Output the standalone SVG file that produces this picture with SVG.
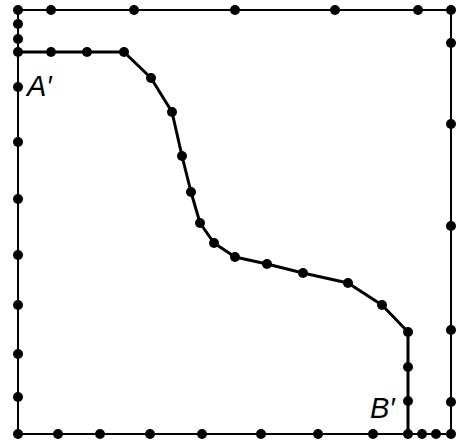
<svg xmlns="http://www.w3.org/2000/svg" width="457" height="446" viewBox="0 0 457 446">
<style>
.edge{fill:none;stroke:#000;stroke-width:2;stroke-linejoin:round}
.curve{fill:none;stroke:#000;stroke-width:3;stroke-linejoin:round}
.dot{fill:#000}
.lbl{font-family:"Liberation Sans",Arial,sans-serif;font-style:italic;font-size:29px;fill:#000}
</style>
<defs><circle id="d" r="5" class="dot"/></defs>
<rect width="457" height="446" fill="#fff"/>
<g id="connectors">
<polyline class="edge" points="18,434 18,10 451,10 451,434 18,434"/>
<polyline class="curve" points="18,52 51,52 87,52 124,52 151,78 172,112 182,156 191,192 200,223 214,243 235,257 267,264 303,273 348,283 382,305 408,332 408,434"/>
</g>
<g id="nodes">
<g id="top">
<use href="#d" x="18" y="10"/><use href="#d" x="51" y="10"/><use href="#d" x="134" y="10"/><use href="#d" x="235" y="10"/><use href="#d" x="335" y="10"/><use href="#d" x="418" y="10"/><use href="#d" x="451" y="10"/>
</g>
<g id="left">
<use href="#d" x="18" y="24"/><use href="#d" x="18" y="39"/><use href="#d" x="18" y="52"/><use href="#d" x="18" y="87"/><use href="#d" x="18" y="142"/><use href="#d" x="18" y="199"/><use href="#d" x="18" y="255"/><use href="#d" x="18" y="305"/><use href="#d" x="18" y="354"/><use href="#d" x="18" y="397"/><use href="#d" x="18" y="434"/>
</g>
<g id="right">
<use href="#d" x="451" y="43"/><use href="#d" x="451" y="124"/><use href="#d" x="451" y="226"/><use href="#d" x="451" y="330"/><use href="#d" x="451" y="402"/><use href="#d" x="451" y="434"/>
</g>
<g id="bottom">
<use href="#d" x="58" y="434"/><use href="#d" x="100" y="434"/><use href="#d" x="150" y="434"/><use href="#d" x="202" y="434"/><use href="#d" x="261" y="434"/><use href="#d" x="318" y="434"/><use href="#d" x="373" y="434"/><use href="#d" x="408" y="434"/><use href="#d" x="422" y="434"/><use href="#d" x="436" y="434"/>
</g>
<g id="path">
<use href="#d" x="51" y="52"/><use href="#d" x="87" y="52"/><use href="#d" x="124" y="52"/><use href="#d" x="151" y="78"/><use href="#d" x="172" y="112"/><use href="#d" x="182" y="156"/><use href="#d" x="191" y="192"/><use href="#d" x="200" y="223"/><use href="#d" x="214" y="243"/><use href="#d" x="235" y="257"/><use href="#d" x="267" y="264"/><use href="#d" x="303" y="273"/><use href="#d" x="348" y="283"/><use href="#d" x="382" y="305"/><use href="#d" x="408" y="332"/><use href="#d" x="408" y="367"/><use href="#d" x="408" y="401"/>
</g>
<g id="labelA"><text class="lbl" x="27" y="96">A′</text></g>
<g id="labelB"><text class="lbl" x="370" y="418">B′</text></g>
</g>
</svg>
